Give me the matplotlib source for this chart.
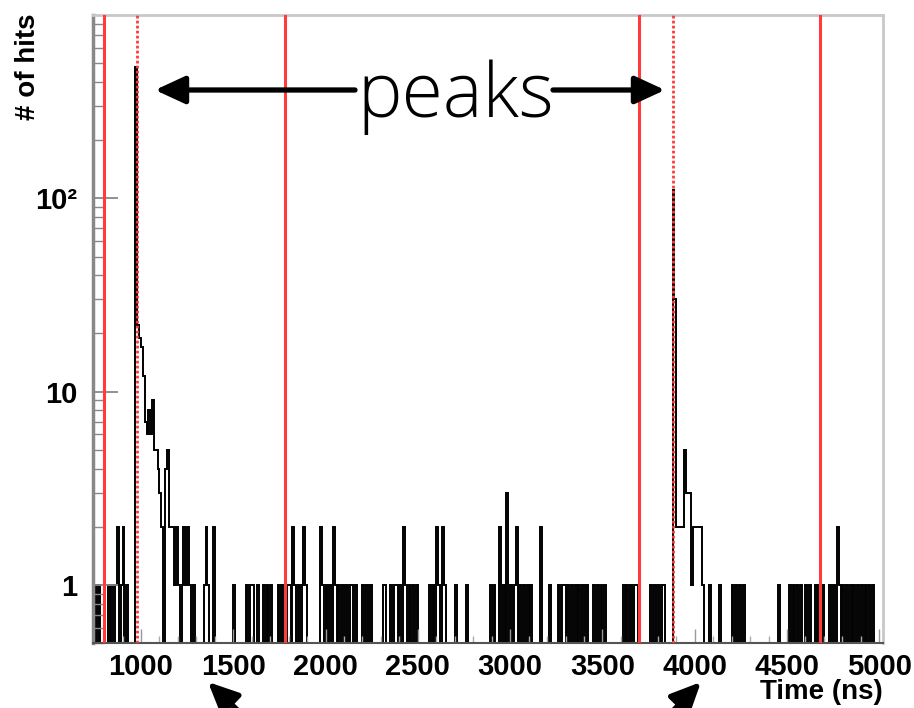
import numpy as np
import matplotlib
matplotlib.use("Agg")
import matplotlib.pyplot as plt
from matplotlib.ticker import FixedLocator, MultipleLocator, LogLocator, NullFormatter

# histogram: 10 ns bins, only the filled bins are listed (bin start in ns -> hits)
bin_width = 10
t_min, t_max = 740, 5020

hit_bins = [
    750, 770, 820, 840, 860, 870, 890, 900, 920,
    970, 980, 990, 1000, 1010, 1020, 1030, 1040, 1050, 1060, 1070, 1080, 1090, 1100, 1110,
    1130, 1140, 1150, 1160, 1170, 1180, 1190, 1200, 1220, 1230, 1240, 1250, 1260, 1280,
    1340, 1350, 1360, 1390, 1500, 1570, 1590, 1600, 1630, 1660, 1680, 1700, 1740, 1760,
    1790, 1800, 1820, 1830, 1850, 1870, 1880, 1890,
    1970, 1980, 2000, 2020, 2040, 2050, 2070, 2090, 2110, 2130, 2140, 2160,
    2200, 2220, 2240, 2310, 2320, 2350, 2370, 2380, 2400, 2420, 2430, 2450, 2470, 2490,
    2560, 2580, 2600, 2610, 2630, 2640, 2700, 2760,
    2890, 2910, 2940, 2960, 2980, 3000, 3020, 3030, 3050, 3070, 3090, 3110,
    3160, 3210, 3260, 3280, 3290, 3310, 3330, 3350, 3370, 3390, 3410,
    3450, 3470, 3490, 3510, 3610, 3630, 3650, 3670, 3680,
    3760, 3780, 3800, 3820, 3830,
    3880, 3890, 3900, 3910, 3920, 3930, 3940, 3950, 3960, 3970, 3980, 3990, 4000, 4010,
    4020, 4030, 4040, 4080, 4130, 4200, 4220, 4240, 4260, 4450,
    4510, 4530, 4550, 4570, 4600, 4620, 4650, 4670, 4690,
    4730, 4750, 4770, 4780, 4800, 4820, 4840, 4860, 4880, 4900, 4920, 4940, 4960,
]
hit_counts = [
    1, 1, 1, 1, 1, 2, 1, 2, 1,
    480, 22, 19, 17, 12, 7, 6, 8, 6, 9, 5, 5, 4, 3, 2,
    4, 5, 2, 2, 2, 1, 2, 1, 1, 2, 1, 2, 1, 1,
    1, 2, 1, 2, 1, 1, 1, 1, 1, 1, 1, 1, 1, 1,
    1, 1, 2, 1, 1, 1, 2, 1,
    2, 1, 1, 1, 2, 1, 1, 1, 1, 1, 1, 1,
    1, 1, 1, 1, 1, 1, 1, 1, 1, 2, 1, 1, 1, 1,
    1, 1, 2, 1, 2, 1, 1, 1,
    1, 1, 2, 1, 3, 1, 1, 2, 1, 1, 1, 1,
    2, 1, 1, 1, 1, 1, 1, 1, 1, 1, 1,
    1, 1, 1, 1, 1, 1, 1, 1, 1,
    1, 1, 1, 1, 1,
    110, 30, 2, 2, 2, 2, 5, 3, 3, 3, 1, 2, 2, 2,
    2, 2, 1, 1, 1, 1, 1, 1, 1, 1,
    1, 1, 1, 1, 1, 1, 1, 1, 1,
    1, 1, 2, 1, 1, 1, 1, 1, 1, 1, 1, 1, 1,
]

# window boundaries (solid) and peak positions (dotted)
window_lines = [800, 1780, 3700, 4680]
peak_lines = [980, 3880]

edges = np.arange(t_min, t_max + bin_width, bin_width)
counts = np.zeros(len(edges) - 1)
for b, c in zip(hit_bins, hit_counts):
    counts[(b - t_min) // bin_width] = c
# empty bins drop below the log axis, like ROOT does
vals = np.where(counts > 0, counts, 0.05)

plt.rcParams['font.family'] = ['Liberation Sans', 'DejaVu Sans']

fig = plt.figure(figsize=(9.14, 7.08), dpi=100)
ax = fig.add_axes([93 / 914, 1 - 643 / 708, 790 / 914, 628 / 708])

ax.stairs(vals, edges, color='black', lw=1.4, baseline=None)

for t in window_lines:
    ax.axvline(t, color='#ff3b3b', lw=2.2, zorder=3)
for t in peak_lines:
    ax.axvline(t, color='#ff3b3b', lw=2.0, ls=(0, (1, 0.8)), zorder=3)

ax.set_yscale('log')
ax.set_xlim(t_min, t_max)
ax.set_ylim(0.5, 890)

ax.yaxis.set_major_locator(FixedLocator([1, 10, 100]))
ax.set_yticklabels(['1', '10', '10²'])
ax.yaxis.set_minor_locator(LogLocator(base=10, subs=np.arange(2, 10)))
ax.yaxis.set_minor_formatter(NullFormatter())
ax.xaxis.set_major_locator(MultipleLocator(500))
ax.xaxis.set_minor_locator(MultipleLocator(100))

ax.tick_params(axis='y', which='major', direction='in', length=18, width=1.3,
               color='#888888', labelsize=21, pad=11)
ax.tick_params(axis='y', which='minor', direction='in', length=8, width=1.0, color='#888888')
ax.tick_params(axis='x', which='major', direction='in', length=10, width=1.0,
               color='#999999', labelsize=21, pad=7)
ax.tick_params(axis='x', which='minor', direction='in', length=5, width=1.0, color='#aaaaaa')
for lab in ax.get_xticklabels() + ax.get_yticklabels():
    lab.set_fontweight('bold')

ax.spines['left'].set_color('#888888')
ax.spines['left'].set_linewidth(2.5)
ax.spines['bottom'].set_color('#555555')
ax.spines['bottom'].set_linewidth(1.5)
for s in ['top', 'right']:
    ax.spines[s].set_color('#c8c8c8')
    ax.spines[s].set_linewidth(2.0)

fig.text(883 / 914, 1 - 692 / 708, 'Time (ns)', ha='right', va='center',
         fontsize=20, fontweight='bold')
fig.text(28 / 914, 1 - 14 / 708, '# of hits', ha='center', va='top', rotation=90,
         fontsize=20, fontweight='bold')

# "peaks" annotation with arrows
fig.text(456 / 914, 1 - 117 / 708, 'peaks', ha='center', va='baseline',
         fontsize=54, family=['Open Sans', 'DejaVu Sans'], fontweight='light')
arrow = dict(arrowstyle='-|>,head_length=1.3,head_width=0.6', color='black', lw=3.8,
             shrinkA=0, shrinkB=0, mutation_scale=14)
ax.annotate('', xy=(155, 708 - 90), xytext=(355, 708 - 90), xycoords='figure pixels',
            textcoords='figure pixels', arrowprops=arrow, annotation_clip=False)
ax.annotate('', xy=(665, 708 - 90), xytext=(553, 708 - 90), xycoords='figure pixels',
            textcoords='figure pixels', arrowprops=arrow, annotation_clip=False)

# arrows at the bottom, cut off by the picture edge
ax.annotate('', xy=(208, 708 - 682), xytext=(250, 708 - 722), xycoords='figure pixels',
            textcoords='figure pixels', arrowprops=arrow, annotation_clip=False)
ax.annotate('', xy=(701, 708 - 682), xytext=(662, 708 - 722), xycoords='figure pixels',
            textcoords='figure pixels', arrowprops=arrow, annotation_clip=False)

fig.savefig('out.png', dpi=100)
